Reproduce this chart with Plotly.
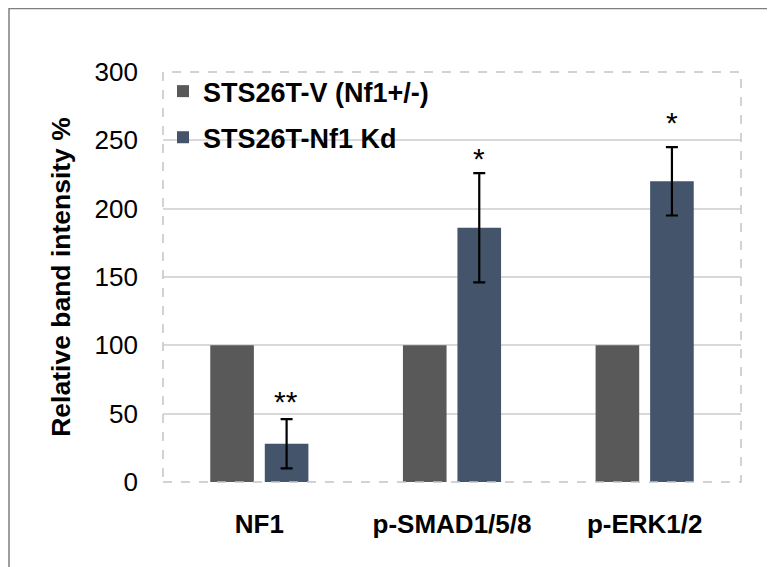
import plotly.graph_objects as go

categories = ["NF1", "p-SMAD1/5/8", "p-ERK1/2"]
series_names = ["STS26T-V (Nf1+/-)", "STS26T-Nf1 Kd"]
control_values = [100, 100, 100]
kd_values = [28, 186, 220]
kd_errors = [18, 40, 25]
sig_labels = ["**", "*", "*"]
sig_heights = [59, 237, 263]
y_ticks = [0, 50, 100, 150, 200, 250, 300]

FONT = "Liberation Sans, Arial, sans-serif"
GRAY = "#595959"
BLUE = "#44546A"

W, H = 775, 567
ML, MR, MT, MB = 155, 42, 64, 93
PW, PH = W - ML - MR, H - MT - MB

fig = go.Figure()
fig.add_trace(go.Bar(
    x=categories, y=control_values, name=series_names[0],
    marker=dict(color=GRAY, line=dict(width=0)),
    legendgroup="a",
))
fig.add_trace(go.Bar(
    x=categories, y=kd_values, name=series_names[1],
    marker=dict(color=BLUE, line=dict(width=0)),
    error_y=dict(type="data", array=kd_errors, visible=True,
                 color="#000000", thickness=2.2, width=6),
    legendgroup="b",
))

# significance marks above the error bars
for i, (lab, h) in enumerate(zip(sig_labels, sig_heights)):
    fig.add_annotation(
        x=i, xref="x", xshift=27, y=h, yref="y",
        text=lab, showarrow=False, yanchor="middle",
        font=dict(family=FONT, size=30, color="#000000"),
    )

# dashed plot-area border
fig.add_shape(type="rect", xref="paper", yref="paper", x0=0, y0=0, x1=1, y1=1,
              line=dict(color="#C4C4C4", width=1.5, dash="dash"), layer="above")

# outer chart frame along the figure edges
fx0 = (-ML + 1) / PW
fx1 = (W - ML - 1) / PW
fy1 = (H - MB - 0.5) / PH
fy0 = (-MB + 1) / PH
fig.add_shape(type="rect", xref="paper", yref="paper",
              x0=fx0, x1=fx1, y0=fy0, y1=fy1,
              line=dict(color="#7F7F7F", width=1.5))

fig.update_layout(
    width=W, height=H,
    margin=dict(l=ML, r=MR, t=MT, b=MB),
    paper_bgcolor="white", plot_bgcolor="white",
    barmode="group", bargap=0.434, bargroupgap=0.2,
    font=dict(family=FONT, color="#000000"),
    showlegend=True,
    legend=dict(
        x=0.0, y=1.012, xanchor="left", yanchor="top",
        bgcolor="rgba(0,0,0,0)", borderwidth=0,
        font=dict(family=FONT, size=27, color="#000000", weight="bold"),
        traceorder="grouped", tracegroupgap=8,
    ),
    xaxis=dict(
        showgrid=False, showline=False, zeroline=False,
        tickfont=dict(family=FONT, size=26, color="#000000", weight="bold"),
        ticks="", ticklabelstandoff=24,
    ),
    yaxis=dict(
        range=[0, 300], tickvals=y_ticks,
        showgrid=True, gridcolor="#D9D9D9", gridwidth=1.5,
        showline=False, zeroline=False,
        tickfont=dict(family=FONT, size=26, color="#000000"),
        ticks="", ticklabelstandoff=24,
        title=dict(text="Relative band intensity %", standoff=16,
                   font=dict(family=FONT, size=26.5, color="#000000", weight="bold")),
    ),
)

fig.write_html("out.html")
